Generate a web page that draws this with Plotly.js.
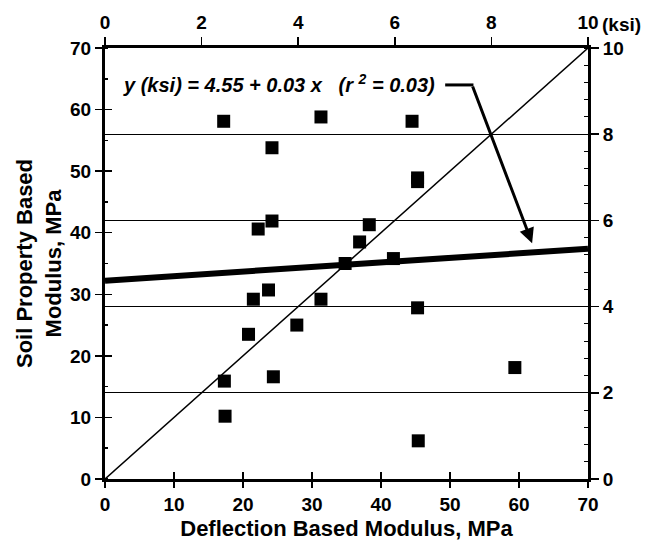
<!DOCTYPE html>
<html>
<head>
<meta charset="utf-8">
<script src="https://cdn.plot.ly/plotly-3.0.1.min.js"></script>
<style>html,body{margin:0;padding:0;background:#fff;}</style>
</head>
<body>
<div id="chart" style="width:652px;height:543px;"></div>
<script>
// Measured points (MPa)
const deflectionModulus = [17.2, 31.3, 24.2, 24.2, 22.2, 38.3, 36.9, 44.5, 45.3, 45.3, 41.8, 34.8, 21.5, 23.7, 31.3, 20.8, 27.8, 17.3, 24.4, 17.4, 45.3, 59.4, 45.4];
const soilModulus       = [58.1, 58.8, 53.8, 41.9, 40.6, 41.3, 38.5, 58.1, 48.9, 48.3, 35.8, 35.0, 29.2, 30.7, 29.2, 23.5, 25.0, 15.9, 16.6, 10.2, 27.8, 18.1, 6.2];
// Regression line and line of equality (MPa)
const fitX = [0, 70];
const fitY = [32.2, 37.4];
const equalityX = [0, 70];
const equalityY = [0, 70];
// Tick labels
const mpaTicks = [0, 10, 20, 30, 40, 50, 60, 70];
const ksiTicks = [0, 2, 4, 6, 8, 10];
const equationText = '<b><i>y (ksi) = 4.55 + 0.03 x   (r <sup>2</sup> = 0.03)</i></b>';

const FONT = 'Liberation Sans, Arial, Helvetica, sans-serif';
const tickFont = {family: FONT, size: 19, color: '#000', weight: 'bold'};

const traces = [
  {x: equalityX, y: equalityY, mode: 'lines', line: {color: '#000', width: 1.5}, hoverinfo: 'skip', showlegend: false},
  {x: fitX, y: fitY, mode: 'lines', line: {color: '#000', width: 6}, hoverinfo: 'skip', showlegend: false},
  {x: deflectionModulus, y: soilModulus, mode: 'markers', marker: {symbol: 'square', size: 13, color: '#000'}, showlegend: false},
  {x: [0], y: [0], xaxis: 'x2', yaxis: 'y2', mode: 'markers', marker: {opacity: 0}, hoverinfo: 'skip', showlegend: false},
  {x: [0], y: [0], xaxis: 'x3', yaxis: 'y3', mode: 'markers', marker: {opacity: 0}, hoverinfo: 'skip', showlegend: false}
];

const layout = {
  width: 652, height: 543,
  margin: {l: 105, r: 64, t: 48, b: 64},
  paper_bgcolor: '#fff', plot_bgcolor: '#fff',
  font: {family: FONT, color: '#000'},
  xaxis: {
    range: [0, 70], tickvals: mpaTicks, ticks: 'outside', ticklen: 6, tickwidth: 1.5, tickcolor: '#000',
    showline: true, linewidth: 3, linecolor: '#000', showgrid: false, zeroline: false,
    tickfont: tickFont,
    title: {text: '<b>Deflection Based Modulus, MPa</b>', font: {family: FONT, size: 22, color: '#000'}, standoff: 7}
  },
  xaxis2: {
    range: [0, 10], tickvals: ksiTicks, overlaying: 'x', side: 'top', anchor: 'y',
    ticks: 'outside', ticklen: 8, tickwidth: 1.5, tickcolor: '#000',
    showline: true, linewidth: 3, linecolor: '#000', showgrid: false, zeroline: false,
    tickfont: tickFont
  },
  xaxis3: {
    range: [0, 70], tickvals: mpaTicks, overlaying: 'x', side: 'bottom', anchor: 'y',
    ticks: 'inside', ticklen: 7, tickwidth: 1.5, tickcolor: '#000',
    showline: false, showgrid: false, zeroline: false, showticklabels: false
  },
  yaxis: {
    range: [0, 70], tickvals: mpaTicks, ticks: 'outside', ticklen: 7, tickwidth: 1.5, tickcolor: '#000',
    showline: true, linewidth: 3, linecolor: '#000', showgrid: false, zeroline: false,
    tickfont: tickFont,
    minor: {dtick: 5, ticks: 'inside', ticklen: 3, tickwidth: 1.5, tickcolor: '#000', showgrid: false},
    title: {text: '<b>Soil Property Based<br>Modulus, MPa</b>', font: {family: FONT, size: 22, color: '#000'}, standoff: 3}
  },
  yaxis2: {
    range: [0, 10], tickvals: ksiTicks, overlaying: 'y', side: 'right', anchor: 'x',
    ticks: 'outside', ticklen: 8, tickwidth: 1.5, tickcolor: '#000',
    showline: true, linewidth: 3, linecolor: '#000', zeroline: false,
    showgrid: true, gridcolor: '#000', gridwidth: 1,
    minor: {dtick: 0.4, ticks: 'inside', ticklen: 4, tickwidth: 1, tickcolor: '#000', showgrid: false},
    tickfont: tickFont
  },
  yaxis3: {
    range: [0, 70], tickvals: mpaTicks, overlaying: 'y', side: 'left', anchor: 'x',
    ticks: 'inside', ticklen: 7, tickwidth: 1.5, tickcolor: '#000',
    showline: false, showgrid: false, zeroline: false, showticklabels: false
  },
  shapes: [
    {type: 'line', xref: 'x', yref: 'y', x0: 49.3, y0: 64, x1: 53.4, y1: 64, line: {color: '#000', width: 3}}
  ],
  annotations: [
    {xref: 'x', yref: 'y', x: 2.3, y: 64.3, xanchor: 'left', yanchor: 'middle', showarrow: false,
     text: equationText, font: {family: FONT, size: 20, color: '#000'}},
    {xref: 'x', yref: 'y', x: 61.9, y: 38.3, axref: 'x', ayref: 'y', ax: 53.2, ay: 64, text: '',
     showarrow: true, arrowhead: 2, arrowsize: 1, arrowwidth: 3, arrowcolor: '#000', standoff: 0, startstandoff: 0},
    {xref: 'paper', yref: 'paper', x: 1.025, y: 1.055, xanchor: 'left', yanchor: 'middle', showarrow: false,
     text: '<b>(ksi)</b>', font: {family: FONT, size: 19, color: '#000'}}
  ]
};

Plotly.newPlot('chart', traces, layout, {displayModeBar: false, staticPlot: true});
</script>
</body>
</html>
